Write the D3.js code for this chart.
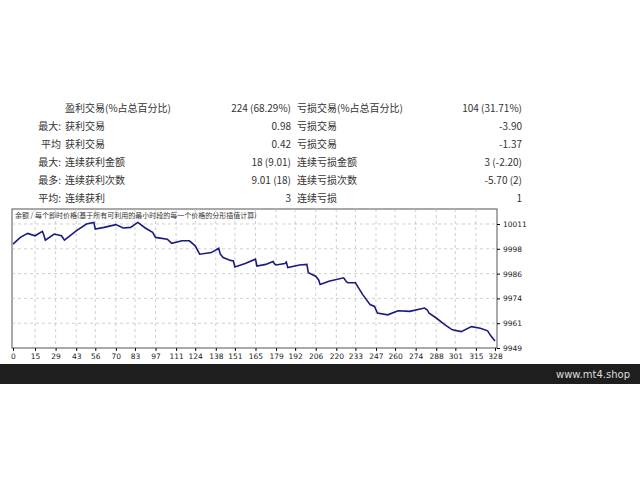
<!DOCTYPE html>
<html><head><meta charset="utf-8">
<script src="https://cdn.jsdelivr.net/npm/d3@7"></script>
<style>body{margin:0;background:#fff;}svg{display:block;font-family:"Noto Sans CJK SC","DejaVu Sans",sans-serif;}</style>
</head><body><svg id="c" width="640" height="480"></svg>
<script>
const statRows = [
  ["", "盈利交易(%占总百分比)", "224 (68.29%)", "亏损交易(%占总百分比)", "104 (31.71%)"],
  ["最大:", "获利交易", "0.98", "亏损交易", "-3.90"],
  ["平均", "获利交易", "0.42", "亏损交易", "-1.37"],
  ["最大:", "连续获利金额", "18 (9.01)", "连续亏损金额", "3 (-2.20)"],
  ["最多:", "连续获利次数", "9.01 (18)", "连续亏损次数", "-5.70 (2)"],
  ["平均:", "连续获利", "3", "连续亏损", "1"]
];
const tradeIdx = [0,5,10,15,20,21,22,28,33,34,35,43,50,55,56,62,70,75,80,85,90,95,97,105,108,115,120,124,127,135,140,141,143,148,150,151,158,165,166,172,177,178,179,185,186,187,195,200,201,206,208,209,215,225,227,228,233,238,243,246,248,255,262,270,280,282,283,288,294,299,305,312,318,323,325,328];
const balance = [10000.9,10004.3,10006.3,10005.1,10007.3,10005.5,10002.9,10006.0,10005.1,10004.0,10002.9,10007.6,10011.0,10011.8,10008.5,10009.3,10010.7,10009.0,10009.3,10011.8,10009.0,10006.8,10004.3,10003.4,10001.3,10002.6,10002.6,10000.1,9995.9,9996.7,9998.9,9996.0,9994.2,9992.8,9992.5,9989.5,9991.2,9993.4,9990.0,9990.8,9992.2,9991.0,9990.5,9991.2,9992.0,9989.2,9990.5,9990.8,9986.6,9984.9,9983.0,9980.8,9982.4,9984.1,9982.0,9981.6,9981.6,9975.7,9970.7,9969.8,9966.5,9965.6,9967.6,9967.3,9969.0,9968.0,9966.5,9964.0,9960.6,9958.1,9957.2,9959.7,9958.9,9957.6,9955.2,9952.5];
const xTicks = [0,15,29,43,56,70,83,97,111,124,138,151,165,179,192,206,220,233,247,260,274,288,301,315,328];
const yTicks = [9949,9961.4,9973.8,9986.2,9998.6,10011];
const yLabels = ["9949","9961","9974","9986","9998","10011"];
const chartTitle = "余额 / 每个即时价格(基于所有可利用的最小时段的每一个价格的分形插值计算)";

const svg = d3.select("#c");
const rowY = [112,130,148,166,184,202];
statRows.forEach((r,i)=>{
  const g = svg.append("g").attr("font-size",10).attr("fill","#333");
  g.append("text").attr("x",61).attr("y",rowY[i]).attr("text-anchor","end").text(r[0]);
  g.append("text").attr("x",65).attr("y",rowY[i]).text(r[1]);
  g.append("text").attr("x",291).attr("y",rowY[i]).attr("text-anchor","end").text(r[2]);
  g.append("text").attr("x",297).attr("y",rowY[i]).text(r[3]);
  g.append("text").attr("x",522).attr("y",rowY[i]).attr("text-anchor","end").text(r[4]);
});

const L=12,R=497,T=209,B=348;
const x = d3.scaleLinear().domain([0,328]).range([13,495]);
const y = d3.scaleLinear().domain([9949,10011]).range([B,224]);
svg.append("rect").attr("x",L).attr("y",T).attr("width",R-L).attr("height",B-T).attr("fill","#fff").attr("stroke","#555");
const grid = svg.append("g").attr("stroke","#bbb").attr("stroke-dasharray","3,3").attr("stroke-width",0.7);
xTicks.slice(1,-1).forEach(t=>grid.append("line").attr("x1",x(t)).attr("x2",x(t)).attr("y1",T).attr("y2",B));
yTicks.slice(1).forEach(t=>grid.append("line").attr("x1",L).attr("x2",R).attr("y1",y(t)).attr("y2",y(t)));
svg.append("g").attr("transform",`translate(0,${B})`).call(d3.axisBottom(x).tickValues(xTicks).tickSize(3).tickSizeOuter(0))
  .call(g=>{g.select(".domain").remove();g.selectAll("text").attr("font-size",7.5).attr("fill","#222").attr("font-family","DejaVu Sans");});
svg.append("g").attr("transform",`translate(${R},0)`).call(d3.axisRight(y).tickValues(yTicks).tickFormat((d,i)=>yLabels[i]).tickSize(3).tickSizeOuter(0))
  .call(g=>{g.select(".domain").remove();g.selectAll("text").attr("font-size",7.5).attr("fill","#222").attr("font-family","DejaVu Sans");});
svg.append("text").attr("x",15).attr("y",218).attr("font-size",7).attr("fill","#333").text(chartTitle);
const data = tradeIdx.map((d,i)=>[d,balance[i]]);
svg.append("path").datum(data).attr("fill","none").attr("stroke","#1a1a80").attr("stroke-width",1.6)
  .attr("d",d3.line().x(d=>x(d[0])).y(d=>y(d[1])));
svg.append("rect").attr("x",0).attr("y",364).attr("width",640).attr("height",20).attr("fill","#1e1e1e");
svg.append("text").attr("x",630).attr("y",378).attr("text-anchor","end").attr("font-size",10).attr("fill","#ddd").attr("font-family","DejaVu Sans").text("www.mt4.shop");
</script></body></html>
